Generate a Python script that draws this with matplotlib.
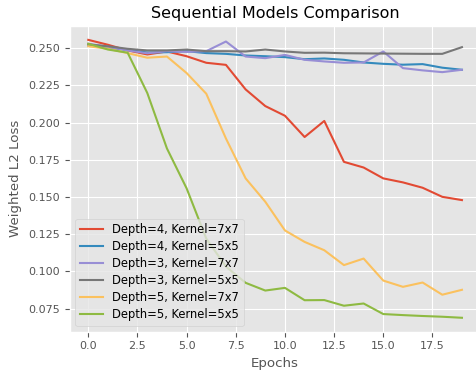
import matplotlib
matplotlib.use("Agg")
import matplotlib.pyplot as plt
import numpy as np

plt.style.use("ggplot")
plt.rcParams["font.size"] = 8

epochs = np.arange(20)

d4_k7 = [0.2556, 0.2523, 0.2485, 0.2458, 0.2478, 0.2446, 0.2402, 0.2388, 0.2223, 0.2111,
         0.2046, 0.1903, 0.2011, 0.1736, 0.1698, 0.1625, 0.1598, 0.1562, 0.1501, 0.1479]
d4_k5 = [0.2518, 0.2502, 0.2489, 0.2471, 0.2473, 0.2480, 0.2467, 0.2462, 0.2451, 0.2446,
         0.2440, 0.2426, 0.2431, 0.2422, 0.2404, 0.2395, 0.2389, 0.2393, 0.2369, 0.2355]
d3_k7 = [0.2530, 0.2509, 0.2485, 0.2466, 0.2480, 0.2475, 0.2480, 0.2545, 0.2444, 0.2433,
         0.2455, 0.2422, 0.2411, 0.2402, 0.2404, 0.2478, 0.2366, 0.2351, 0.2339, 0.2355]
d3_k5 = [0.2525, 0.2513, 0.2496, 0.2485, 0.2485, 0.2491, 0.2480, 0.2480, 0.2478, 0.2491,
         0.2478, 0.2469, 0.2470, 0.2466, 0.2465, 0.2464, 0.2463, 0.2462, 0.2462, 0.2507]
d5_k7 = [0.2513, 0.2496, 0.2467, 0.2436, 0.2444, 0.2333, 0.2194, 0.1893, 0.1625, 0.1468,
         0.1275, 0.1198, 0.1142, 0.1042, 0.1086, 0.0938, 0.0896, 0.0925, 0.0843, 0.0876]
d5_k5 = [0.2530, 0.2491, 0.2470, 0.2199, 0.1826, 0.1558, 0.1220, 0.1032, 0.0923, 0.0871,
         0.0889, 0.0806, 0.0807, 0.0769, 0.0784, 0.0713, 0.0706, 0.0700, 0.0695, 0.0688]

series = [
    ("Depth=4, Kernel=7x7", d4_k7),
    ("Depth=4, Kernel=5x5", d4_k5),
    ("Depth=3, Kernel=7x7", d3_k7),
    ("Depth=3, Kernel=5x5", d3_k5),
    ("Depth=5, Kernel=7x7", d5_k7),
    ("Depth=5, Kernel=5x5", d5_k5),
]

fig = plt.figure(figsize=(4.77, 3.71), dpi=100)
ax = fig.add_axes([0.1459, 0.106, 0.8617, 0.824])

for label, vals in series:
    ax.plot(epochs, vals, label=label)

ax.set_title("Sequential Models Comparison")
ax.set_xlabel("Epochs")
ax.set_ylabel("Weighted L2 Loss")
ax.legend(loc="lower left", fontsize=8.3, labelspacing=0.35)

fig.savefig("out.png", dpi=100)
